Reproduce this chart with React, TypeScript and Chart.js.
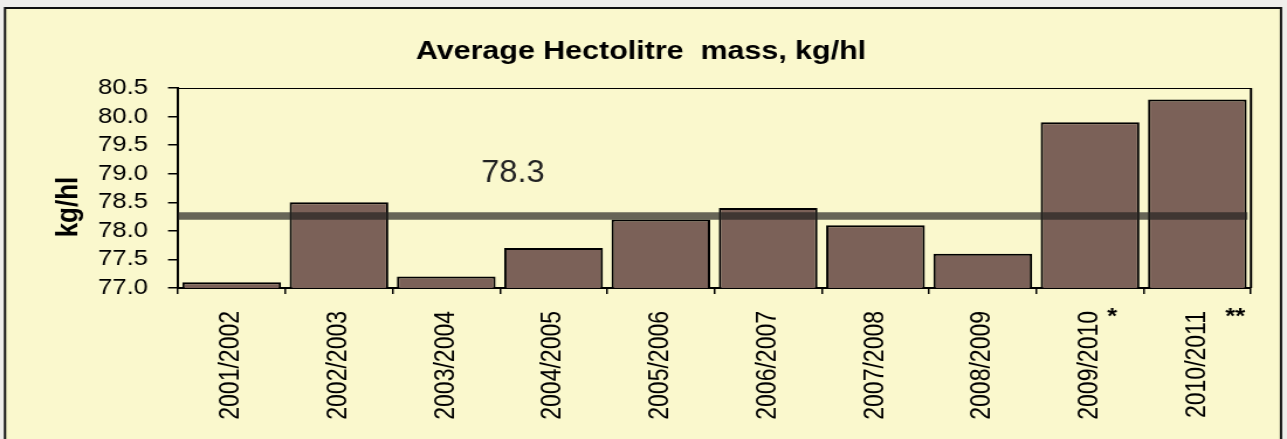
import React, { useEffect, useRef } from "react";
import { Chart, registerables } from "chart.js";

Chart.register(...registerables);

const CATEGORIES = [
  "2001/2002",
  "2002/2003",
  "2003/2004",
  "2004/2005",
  "2005/2006",
  "2006/2007",
  "2007/2008",
  "2008/2009",
  "2009/2010",
  "2010/2011",
];
const HECTOLITRE_MASS = [77.1, 78.5, 77.2, 77.7, 78.2, 78.4, 78.1, 77.6, 79.9, 80.3];
const AVERAGE_VALUE = 78.26;
const AVERAGE_LABEL = "78.3";
const NOTE_MARKS = ["", "", "", "", "", "", "", "", "*", "**"];
const TITLE = "Average Hectolitre  mass, kg/hl";
const Y_TITLE = "kg/hl";
const Y_MIN = 77;
const Y_MAX = 80.5;
const Y_STEP = 0.5;

const PAGE_W = 1287;
const PAGE_H = 439;
const STRETCH = 1.17;
const LOGICAL_W = Math.round(PAGE_W / STRETCH);
const FONT = "'Liberation Sans', Arial, Helvetica, sans-serif";

const sx = (x: number) => x / STRETCH;

const decorPlugin = {
  id: "decor",
  beforeDraw(chart: any) {
    const ctx = chart.ctx;
    ctx.save();
    ctx.fillStyle = "#efeeeb";
    ctx.fillRect(0, 0, chart.width, chart.height);
    ctx.fillStyle = "#faf8cd";
    ctx.fillRect(sx(5), 8, sx(1281) - sx(5), 440);
    ctx.strokeStyle = "#111";
    ctx.lineWidth = 2;
    ctx.strokeRect(sx(5), 8, sx(1281) - sx(5), 440);
    // title
    ctx.fillStyle = "#000";
    ctx.font = `bold 26px ${FONT}`;
    ctx.textAlign = "center";
    ctx.textBaseline = "alphabetic";
    ctx.fillText(TITLE, sx(641), 59);
    // y title
    ctx.save();
    ctx.translate(sx(69), 207);
    ctx.rotate(-Math.PI / 2);
    ctx.font = `bold 26px ${FONT}`;
    ctx.textAlign = "center";
    ctx.textBaseline = "middle";
    ctx.fillText(Y_TITLE, 0, 0);
    ctx.restore();
    ctx.restore();
  },
  afterDatasetsDraw(chart: any) {
    const ctx = chart.ctx;
    const area = chart.chartArea;
    const yScale = chart.scales.y;
    const xScale = chart.scales.x;
    ctx.save();
    // average line
    const yAvg = yScale.getPixelForValue(AVERAGE_VALUE);
    ctx.strokeStyle = "rgba(36,35,34,0.69)";
    ctx.lineWidth = 7.5;
    ctx.beginPath();
    ctx.moveTo(area.left, yAvg);
    ctx.lineTo(area.right - 3, yAvg);
    ctx.stroke();
    ctx.save();
    ctx.translate(sx(513), yAvg - 34);
    ctx.scale(0.9, 1);
    ctx.fillStyle = "#222";
    ctx.font = `31px ${FONT}`;
    ctx.textAlign = "center";
    ctx.textBaseline = "alphabetic";
    ctx.fillText(AVERAGE_LABEL, 0, 0);
    ctx.restore();
    // plot top and right borders
    ctx.strokeStyle = "#000";
    ctx.lineWidth = 1.2;
    ctx.beginPath();
    ctx.moveTo(area.left, area.top + 0.5);
    ctx.lineTo(area.right, area.top + 0.5);
    ctx.stroke();
    ctx.lineWidth = 2;
    ctx.beginPath();
    ctx.moveTo(area.right, area.top);
    ctx.lineTo(area.right, area.bottom);
    ctx.stroke();
    // note marks
    ctx.fillStyle = "#000";
    ctx.font = `bold 22px ${FONT}`;
    ctx.textAlign = "left";
    ctx.textBaseline = "alphabetic";
    NOTE_MARKS.forEach((m, i) => {
      if (!m) return;
      const xc = xScale.getPixelForValue(i);
      ctx.fillText(m, xc + (6 + 11 * m.length) / STRETCH, 323);
    });
    ctx.restore();
  },
};

export default function App() {
  const canvasRef = useRef<HTMLCanvasElement | null>(null);

  useEffect(() => {
    const canvas = canvasRef.current;
    if (!canvas) return;
    const plotLeft = sx(178);
    const plotRight = sx(1251);
    const chart = new Chart(canvas, {
      type: "bar",
      data: {
        labels: CATEGORIES,
        datasets: [
          {
            label: "Hectolitre mass",
            data: HECTOLITRE_MASS,
            backgroundColor: "#7b6158",
            borderColor: "#000",
            borderWidth: 2,
            borderSkipped: false,
            barPercentage: 0.92,
            categoryPercentage: 1,
          },
        ],
      },
      options: {
        animation: false,
        responsive: false,
        devicePixelRatio: 1,
        layout: {
          padding: { left: 0, right: LOGICAL_W - plotRight, top: 88, bottom: 0 },
        },
        plugins: {
          legend: { display: false },
          title: { display: false },
          tooltip: { enabled: false },
        },
        scales: {
          x: {
            grid: {
              offset: true,
              drawOnChartArea: false,
              drawTicks: true,
              tickLength: 6,
              color: "#000",
              lineWidth: 1.5,
            },
            border: { display: true, color: "#000", width: 2 },
            ticks: {
              autoSkip: false,
              minRotation: 90,
              maxRotation: 90,
              padding: 17,
              color: "#000",
              font: { family: FONT, size: 23 },
            },
            afterFit: (scale: any) => {
              scale.height = PAGE_H - 288;
            },
          },
          y: {
            min: Y_MIN,
            max: Y_MAX,
            grid: {
              drawOnChartArea: false,
              drawTicks: true,
              tickLength: sx(10),
              color: "#000",
              lineWidth: 1.5,
            },
            border: { display: true, color: "#000", width: 2 },
            ticks: {
              autoSkip: false,
              stepSize: Y_STEP,
              maxTicksLimit: 20,
              padding: sx(20),
              color: "#000",
              font: { family: FONT, size: 22, lineHeight: 1 },
              callback: (v: any) => Number(v).toFixed(1),
            },
            afterFit: (scale: any) => {
              scale.width = plotLeft;
            },
          },
        },
      },
      plugins: [decorPlugin],
    });
    return () => chart.destroy();
  }, []);

  return (
    <div
      style={{
        position: "fixed",
        left: 0,
        top: 0,
        width: PAGE_W,
        height: PAGE_H,
        overflow: "hidden",
        background: "#efeeeb",
      }}
    >
      <canvas
        ref={canvasRef}
        width={LOGICAL_W}
        height={PAGE_H}
        style={{ width: `${PAGE_W}px`, height: `${PAGE_H}px`, display: "block" }}
      />
    </div>
  );
}
